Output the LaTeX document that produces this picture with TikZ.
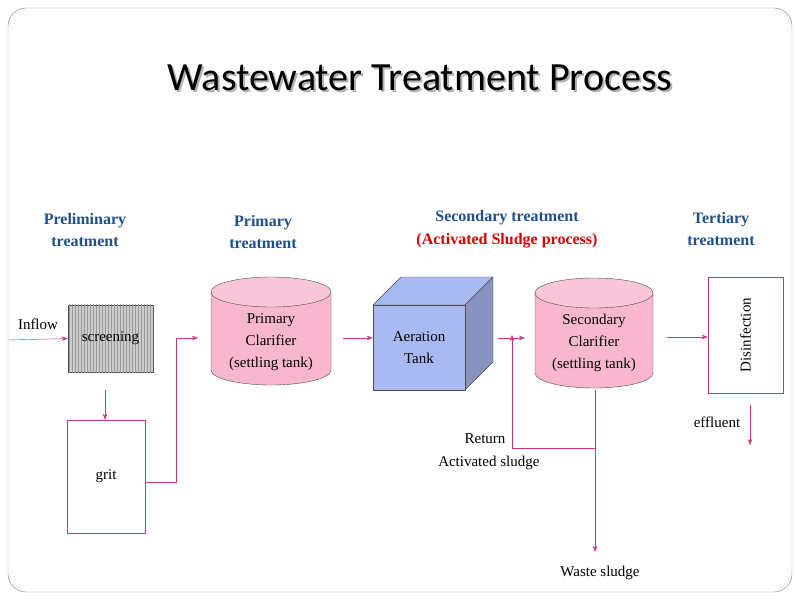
\documentclass[tikz,border=0pt]{standalone}
\usepackage{fontspec}
\setmainfont{Liberation Serif}
\newfontfamily\titlefont{Carlito}
\usepackage{tikz}
\usetikzlibrary{arrows.meta,patterns}

\definecolor{pinkline}{HTML}{C8347E}
\definecolor{pinkfill}{HTML}{F8B6CF}
\definecolor{headblue}{HTML}{1F4E8C}
\definecolor{cubeblue}{HTML}{A9B9F2}

\newcommand{\tankshape}[4]{% center x, top y, bottom y, half width
    \fill[pinkfill, draw=black!70] (#1-#4,#2) -- (#1-#4,#3) arc[start angle=180, end angle=360, x radius=#4, y radius=-15] -- (#1+#4,#2);
    \draw[fill=pinkfill!80!white, draw=black!70] (#1,#2) ellipse[x radius=#4, y radius=15];}

\begin{document}
\begin{tikzpicture}[x=1pt,y=-1pt,
            flow/.style = {draw=pinkline, -{Stealth[length=6pt]}},
            head/.style = {text=headblue, font=\bfseries\fontsize{16}{22}\selectfont, align=center},
            txt/.style = {font=\fontsize{15}{22}\selectfont, align=center}]
            % frame
            \useasboundingbox (0,0) rectangle (800,600);
            \draw[gray, rounded corners=18pt] (8,8) rectangle (792,592);
            \node[font=\titlefont\fontsize{40}{46}\selectfont, text=black!30] at (422,80) {Wastewater Treatment Process};
            \node[font=\titlefont\fontsize{40}{46}\selectfont] (title) at (420,78) {Wastewater Treatment Process};
            % headings
            \node[head] (h1) at (85,230) {Preliminary\\treatment};
            \node[head] (h2) at (263,232) {Primary\\treatment};
            \node[head] (h3) at (507,218) {Secondary treatment};
            \node[head, text=red!85!black] (h3b) at (507,241) {(Activated Sludge process)};
            \node[head] (h4) at (721,229) {Tertiary\\treatment};
            % preliminary
            \node[txt] (inflow) at (38,324) {Inflow};
            \coordinate (in) at (8,340);
            \node[draw=black!70, fill=black!20, minimum width=85pt, minimum height=67pt] (screen) at (110.5,338.5) {};
            \fill[pattern=vertical lines, pattern color=black!40] (screen.south west) rectangle (screen.north east);
            \node[txt] at (screen) {screening};
            \node[draw=pinkline, minimum width=78pt, minimum height=113pt, txt] (grit) at (106,476.5) {grit};
            \draw[flow] (in) -- (screen.west);
            \draw[flow] (105,390) -- (grit.north -| 105,0);
            % primary
            \tankshape{271}{292}{370}{60}
            \node[txt, fill=none] (prim) at (271,342) {Primary\\Clarifier\\(settling tank)};
            \draw[flow] (grit.east |- 0,482) -- (176,482) -- (176,338) -- (198,338);
            % aeration cube
            \fill[cubeblue, draw=black!70] (373,305) -- (401,277) -- (493,277) -- (465,305) -- cycle;
            \fill[cubeblue!80!black, draw=black!70] (465,305) -- (493,277) -- (493,362) -- (465,390) -- cycle;
            \node[draw=black!70, fill=cubeblue, minimum width=92pt, minimum height=85pt, txt] (aer) at (419,347.5) {Aeration\\Tank};
            \draw[flow] (343,338) -- (aer.west |- 0,338);
            % secondary
            \tankshape{594}{293}{373}{59}
            \node[txt] (sec) at (594,343) {Secondary\\Clarifier\\(settling tank)};
            \draw[flow] (498,338) -- (525,338);
            % tertiary
            \node[draw=pinkline, minimum width=75pt, minimum height=116pt] (dis) at (745.5,335) {};
            \node[txt, rotate=90] at (dis) {Disinfection};
            \draw[flow] (667,337) -- (dis.west |- 0,337);
            \node[txt] (eff) at (717,422) {effluent};
            \draw[flow] (750,405) -- (750,445);
            % sludge lines
            \coordinate (ret) at (512,335);
            \draw[flow] (595,448) -- (512,448) -- (ret);
            \node[txt] (waste) at (600,573) {Waste sludge};
            \draw[flow] (595,390) -- (595,552);
            \node[txt, anchor=east] at (509,439) {Return};
            \node[txt, anchor=east] (retl) at (543,463) {Activated sludge};
        \end{tikzpicture}
\end{document}
